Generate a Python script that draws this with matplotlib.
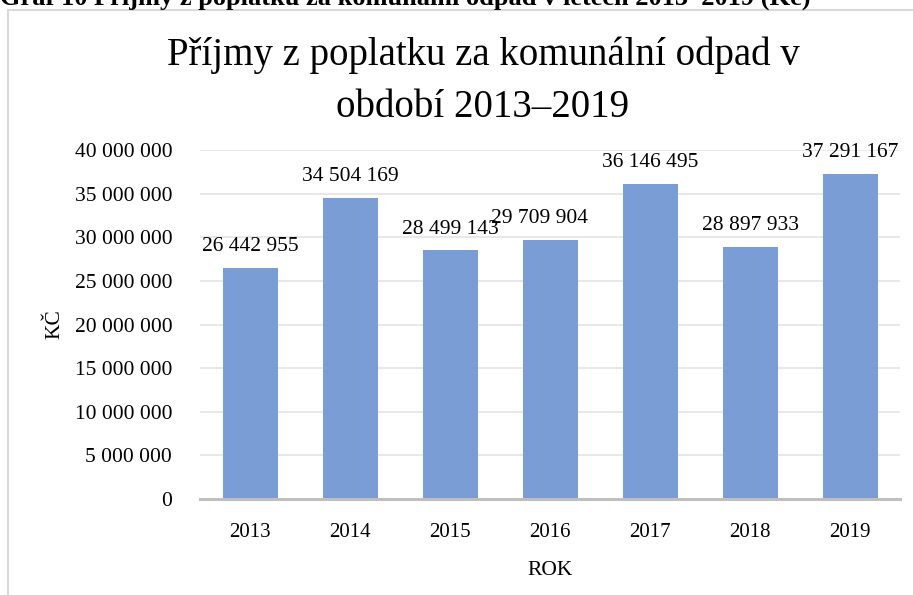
import matplotlib
matplotlib.use("Agg")
import matplotlib.pyplot as plt
from matplotlib.patches import Rectangle

years = ["2013", "2014", "2015", "2016", "2017", "2018", "2019"]
values = [26442955, 34504169, 28499143, 29709904, 36146495, 28897933, 37291167]
yticks = [0, 5000000, 10000000, 15000000, 20000000, 25000000, 30000000, 35000000, 40000000]

def fmt(v):
    return f"{v:,}".replace(",", " ")

plt.rcParams['font.family'] = ['Liberation Serif', 'DejaVu Serif']

W, H = 913, 595
fig = plt.figure(figsize=(W / 100, H / 100), dpi=100)

# chart frame
fig.patches.append(Rectangle((8 / W, -0.1), 1.2, 1 - 10 / H + 0.1, transform=fig.transFigure,
                             fill=False, edgecolor='#D9D9D9', lw=1.5))

# clipped caption at very top
fig.text(0.0 / W, 1 - 5 / H, "Graf 10 Příjmy z poplatku za komunální odpad v letech 2013–2019 (Kč)",
         fontsize=19, fontweight='bold', ha='left', va='baseline')

ax = fig.add_axes([200 / W, 1 - 499 / H, 700 / W, 349 / H])
x = list(range(len(years)))
bars = ax.bar(x, values, width=0.55, color='#7B9DD5', zorder=3)
ax.set_xlim(-0.5, 6.5)
ax.set_ylim(0, 40000000)
ax.set_yticks(yticks)
ax.set_yticklabels([fmt(v) for v in yticks], fontsize=15.5)
ax.set_xticks(x)
ax.set_xticklabels(years, fontsize=15)
ax.tick_params(axis='y', length=0, pad=20)
ax.tick_params(axis='x', length=0, pad=17)
ax.grid(axis='y', color='#E6E6E6', lw=1.3, zorder=0)
for s in ['top', 'right', 'left']:
    ax.spines[s].set_visible(False)
ax.spines['bottom'].set_color('#BFBFBF')
ax.spines['bottom'].set_linewidth(2.2)
ax.spines['bottom'].set_zorder(4)

offsets = [0, 0, 0, -0.11, 0, 0, 0]
for xi, v, o in zip(x, values, offsets):
    ax.annotate(fmt(v), (xi + o, v), xytext=(0, 8.5), textcoords='offset points',
                ha='center', va='bottom', fontsize=15.5)

ax.set_xlabel("ROK", fontsize=15.5, labelpad=14)
ax.set_ylabel("KČ", fontsize=15.5)
ax.yaxis.set_label_coords(-136 / 700, 0.5)

fig.text(483 / W, 1 - 117 / H, "Příjmy z poplatku za komunální odpad v\nobdobí 2013–2019",
         fontsize=28, ha='center', va='baseline', linespacing=1.55, multialignment='center')

fig.savefig("out.png", dpi=100)
